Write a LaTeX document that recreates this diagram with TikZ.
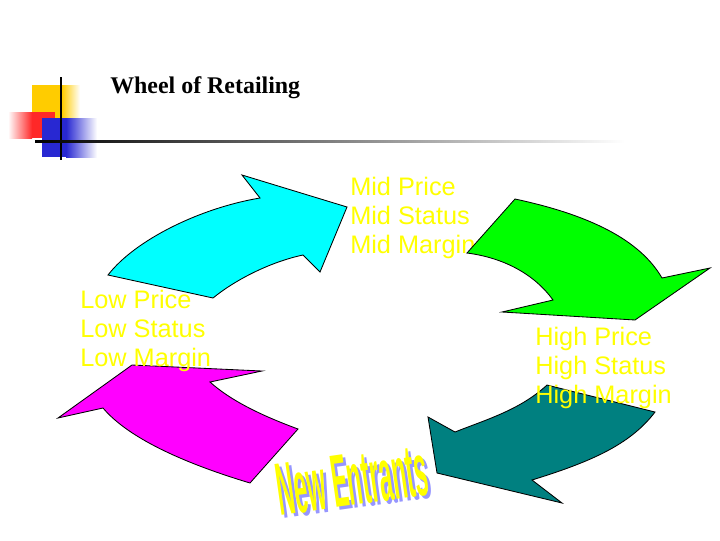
\documentclass[tikz,border=0pt]{standalone}
\usepackage{fontspec}
\setmainfont{Liberation Serif}
\newfontfamily\arialfont{Liberation Sans}
\usepackage{xcolor}
\usetikzlibrary{positioning}

\definecolor{wheelcyan}{RGB}{0,255,255}
\definecolor{wheelgreen}{RGB}{0,255,0}
\definecolor{wheelteal}{RGB}{0,128,128}
\definecolor{wheelmagenta}{RGB}{255,0,255}
\definecolor{labelyellow}{RGB}{255,255,0}
\definecolor{logoyellow}{RGB}{255,204,0}
\definecolor{logored}{RGB}{255,40,40}
\definecolor{logoblue}{RGB}{40,40,210}
\definecolor{shadowlilac}{RGB}{150,150,255}

\begin{document}
\begin{tikzpicture}[
    x=0.025cm, y=-0.025cm,
    wheelarrow/.style={draw=black, line width=0.6pt, line join=miter},
    stagelabel/.style={anchor=north west, inner sep=0pt, align=left, text=labelyellow,
        font=\arialfont\fontsize{18}{20.6}\selectfont},
    entrantstext/.style={font=\arialfont\bfseries\fontsize{53}{53}\selectfont, inner sep=0pt, rotate=8}
]
\useasboundingbox (0,0) rectangle (720,540);

% Logo in the corner
\fill[logoyellow] (32,85) rectangle (62,118);
\shade[left color=logoyellow, right color=white] (62,85) rectangle (80,118);
\shade[left color=white, right color=logored] (8,112) rectangle (32,138);
\fill[logored] (32,112) rectangle (55,138);
\fill[logoblue] (42,118) rectangle (66,157);
\shade[left color=logoblue, right color=white] (66,118) rectangle (97,157);
\draw[line width=1.2pt] (61,77) -- (61,160);
\shade[left color=black, right color=white] (35,140) rectangle (625,142.2);

% Title
\node[anchor=base west, inner sep=0pt, font=\bfseries\fontsize{17}{20}\selectfont] (title) at (110,93) {Wheel of Retailing};

% The four arrows of the wheel
\draw[wheelarrow, fill=wheelcyan] (108,275) -- (213,298)
    .. controls (235,280) and (270,262) .. (303,255)
    -- (320,272) -- (347,207) -- (242,175) -- (260,198)
    .. controls (200,208) and (135,240) .. (108,275) -- cycle;
\draw[wheelarrow, fill=wheelmagenta] (298,429) -- (250,483)
    .. controls (190,465) and (130,440) .. (103,408)
    -- (58,418) -- (132,365) -- (262,371) -- (210,382)
    .. controls (230,400) and (260,415) .. (298,429) -- cycle;
\draw[wheelarrow, fill=wheelteal] (547,385) -- (655,412)
    .. controls (630,445) and (590,462) .. (532,480)
    -- (562,503) -- (437,473) -- (428,417) -- (455,432)
    .. controls (485,420) and (520,410) .. (547,385) -- cycle;

% Stage labels
\node[stagelabel] (mid) at (350,176.5) {Mid Price\\Mid Status\\Mid Margin};
\node[stagelabel] (low) at (80,289.5) {Low Price\\Low Status\\Low Margin};
\node[stagelabel] (high) at (535,326.5) {High Price\\High Status\\High Margin};

\draw[wheelarrow, fill=wheelgreen] (515,199) -- (467,253)
    .. controls (505,258) and (535,275) .. (553,300)
    -- (502,312) -- (635,320) -- (710,268) -- (662,278)
    .. controls (640,240) and (590,215) .. (515,199) -- cycle;

% New entrants
\node[entrantstext, text=shadowlilac] (entrantsshadow) at (355,483) {\scalebox{0.32}[1]{New Entrants}};
\node[entrantstext, text=labelyellow] (entrants) at (352,480) {\scalebox{0.32}[1]{New Entrants}};

\end{tikzpicture}
\end{document}
